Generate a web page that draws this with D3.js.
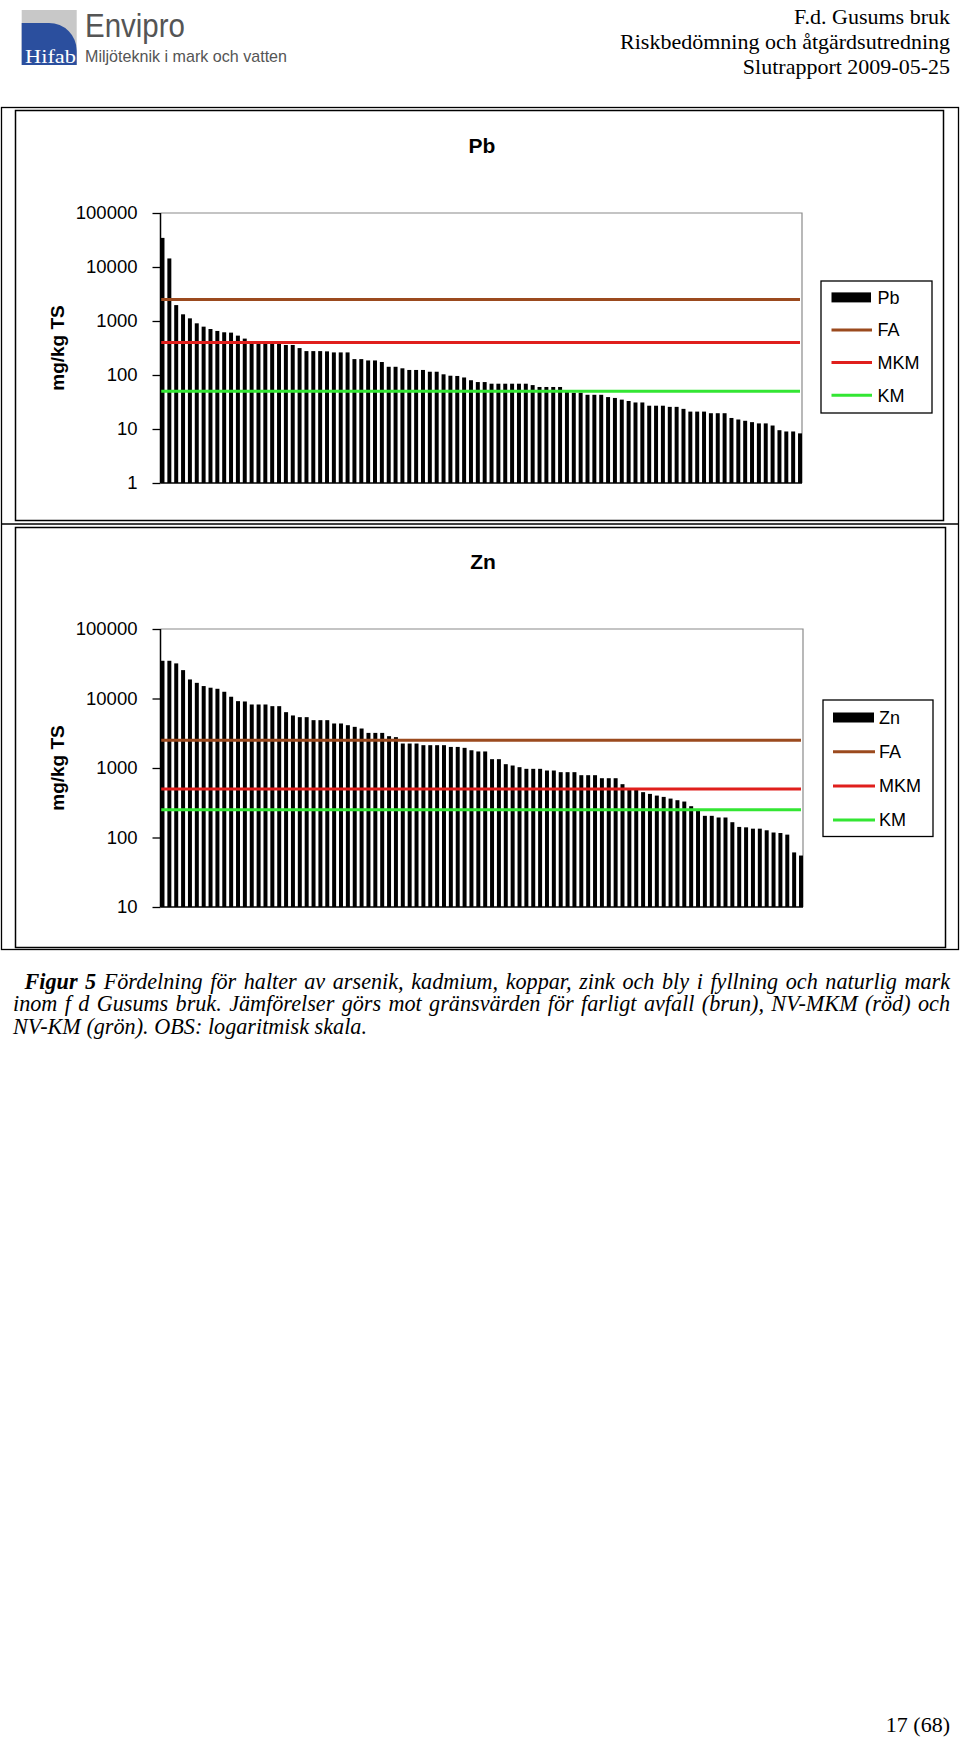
<!DOCTYPE html>
<html><head><meta charset="utf-8">
<script src="https://cdn.jsdelivr.net/npm/d3@7"></script>
<style>
html,body{margin:0;padding:0;background:#fff;}
svg{display:block;}
</style></head>
<body>
<svg id="page" width="960" height="1743"></svg>
<script>
// ---------------- data ----------------
const pbValues = [34600,14400,1970,1330,1120,906,786,711,654,618,
  609,536,472,420,400,400,400,400,360,360,
  315,277,277,277,274,262,262,262,197,197,
  186,186,174,142,142,133,124,124,124,115,
  115,103,97,96,90,80,74,74,69,69,
  69,69,69,69,65,60,60,60,60,49,
  47,47,43,43,43,39,37.6,35,33,31,
  31,27,27,27,25.7,25.7,23.6,21,21,21,
  19.6,19.6,19.6,16,15,14.2,13.4,12.7,12.7,11.6,
  9.5,9,9,8.3];
const znValues = [34900,34900,32000,25600,18800,16800,15100,14300,13800,12500,
  10600,9160,9060,8200,8200,8200,7760,7760,6360,5700,
  5390,5390,4880,4880,4880,4370,4370,4130,3910,3700,
  3200,3200,3200,2870,2780,2250,2250,2250,2130,2130,
  2130,2130,2010,2010,1950,1800,1730,1730,1340,1340,
  1135,1086,1028,973,973,973,920,920,871,871,
  871,788,788,788,713,713,713,585,510,490,
  449,424,401,384,363,344,329,282,245,205,
  205,194,194,166,142,140,134,134,127,118,
  116,110,61,55];
const limitNames = ["FA","MKM","KM"];
const pbLimits = [2500, 400, 50];
const znLimits = [2500, 500, 250];
const limitColors = ["#9b4a1e","#e01f1c","#33e633"];
const pbTicks = [1,10,100,1000,10000,100000];
const znTicks = [10,100,1000,10000,100000];
const yLabel = "mg/kg TS";
const headerLines = ["F.d. Gusums bruk","Riskbedömning och åtgärdsutredning","Slutrapport 2009-05-25"];
const captionLines = [
  "Figur 5 Fördelning för halter av arsenik, kadmium, koppar, zink och bly i fyllning och naturlig mark",
  "inom f d Gusums bruk. Jämförelser görs mot gränsvärden för farligt avfall (brun), NV-MKM (röd) och",
  "NV-KM (grön). OBS: logaritmisk skala."
];
const pageNumber = "17 (68)";

// ---------------- drawing ----------------
const svg = d3.select("#page");
svg.append("rect").attr("width",960).attr("height",1743).attr("fill","#fff");
const SANS = "'Liberation Sans', Arial, Helvetica, sans-serif";
const SERIF = "'Liberation Serif', 'Times New Roman', serif";

// logo
const logo = svg.append("g");
logo.append("rect").attr("x",21.7).attr("y",10).attr("width",55).attr("height",55).attr("fill","#c8c8c8");
logo.append("path").attr("d","M21.7,23 H49 A27.7,27.7 0 0 1 76.7,50.7 V65 H21.7 Z").attr("fill","#2b4f9e");
logo.append("text").attr("x",25).attr("y",62.5).attr("font-family",SERIF).attr("font-size",18)
  .attr("fill","#fff").attr("textLength",51).attr("lengthAdjust","spacingAndGlyphs").text("Hifab");
logo.append("text").attr("x",85).attr("y",36.7).attr("font-family",SANS).attr("font-size",33)
  .attr("fill","#555").attr("textLength",100).attr("lengthAdjust","spacingAndGlyphs").text("Envipro");
logo.append("text").attr("x",85).attr("y",62).attr("font-family",SANS).attr("font-size",17)
  .attr("fill","#555").attr("textLength",202).attr("lengthAdjust","spacingAndGlyphs").text("Miljöteknik i mark och vatten");

// header right
svg.append("g").selectAll("text").data(headerLines).join("text")
  .attr("x",950).attr("y",(d,i)=>24+i*25.2).attr("text-anchor","end")
  .attr("font-family",SERIF).attr("font-size",22).attr("fill","#000").text(d=>d);

// outer table frame
svg.append("rect").attr("x",1.5).attr("y",107.5).attr("width",957).attr("height",842)
  .attr("fill","none").attr("stroke","#000").attr("stroke-width",1.3);
svg.append("line").attr("x1",1.5).attr("x2",958.5).attr("y1",524).attr("y2",524)
  .attr("stroke","#000").attr("stroke-width",1.3);

function drawPanel(cfg){
  const g = svg.append("g");
  const p = cfg.plot;
  g.append("rect").attr("x",cfg.frame[0]).attr("y",cfg.frame[1]).attr("width",cfg.frame[2]).attr("height",cfg.frame[3])
    .attr("fill","#fff").attr("stroke","#000").attr("stroke-width",1.5);
  const x = d3.scaleBand().domain(d3.range(cfg.values.length)).range([p.x0, p.x1]).paddingInner(0.42).paddingOuter(0);
  const y = d3.scaleLog().domain(cfg.domain).range([p.y1, p.y0]);
  // plot area border (top/right grey)
  g.append("path").attr("d",`M${p.x0},${p.y0}H${p.x1}V${p.y1}`).attr("fill","none")
    .attr("stroke","#8a8a8a").attr("stroke-width",1.2);
  // bars
  g.append("g").selectAll("rect").data(cfg.values).join("rect")
    .attr("x",(d,i)=>x(i)).attr("width",x.bandwidth())
    .attr("y",d=>y(d)).attr("height",d=>y(cfg.domain[0])-y(d)).attr("fill","#000");
  // limit lines
  g.append("g").selectAll("line").data(cfg.limits).join("line")
    .attr("x1",p.x0).attr("x2",p.x1-2).attr("y1",d=>y(d)).attr("y2",d=>y(d))
    .attr("stroke",(d,i)=>limitColors[i]).attr("stroke-width",3);
  // axis
  const ax = g.append("g").attr("transform",`translate(${p.x0},0)`)
    .call(d3.axisLeft(y).tickValues(cfg.ticks).tickFormat(d3.format("d")).tickSize(8).tickPadding(15));
  ax.select(".domain").remove();
  ax.attr("font-family",SANS).attr("font-size",18.5);
  ax.selectAll("line").attr("stroke","#000").attr("stroke-width",1.3);
  ax.selectAll("text").attr("fill","#000");
  g.append("line").attr("x1",p.x0).attr("x2",p.x0).attr("y1",p.y0).attr("y2",p.y1).attr("stroke","#000").attr("stroke-width",1.5);
  g.append("line").attr("x1",p.x0).attr("x2",p.x1).attr("y1",p.y1).attr("y2",p.y1).attr("stroke","#000").attr("stroke-width",1.5);
  // title
  g.append("text").attr("x",cfg.titleX).attr("y",cfg.titleY).attr("text-anchor","middle")
    .attr("font-family",SANS).attr("font-weight","bold").attr("font-size",21).text(cfg.title);
  // y label
  g.append("text").attr("transform",`translate(57,${(p.y0+p.y1)/2}) rotate(-90)`).attr("text-anchor","middle")
    .attr("dy","0.35em").attr("font-family",SANS).attr("font-weight","bold").attr("font-size",19).text(yLabel);
  // legend
  const L = cfg.legend;
  g.append("rect").attr("x",L.x).attr("y",L.y).attr("width",L.w).attr("height",L.h)
    .attr("fill","#fff").attr("stroke","#000").attr("stroke-width",1.3);
  const items = [cfg.title].concat(limitNames);
  const li = g.append("g").selectAll("g").data(items).join("g")
    .attr("transform",(d,i)=>`translate(0,${L.row0 + i*L.step})`);
  li.each(function(d,i){
    const s = d3.select(this);
    if(i===0){
      s.append("rect").attr("x",L.sx0).attr("y",-5).attr("width",L.sx1-L.sx0-1).attr("height",10).attr("fill","#000");
    } else {
      s.append("line").attr("x1",L.sx0).attr("x2",L.sx1).attr("y1",0).attr("y2",0)
        .attr("stroke",limitColors[i-1]).attr("stroke-width",3);
    }
    s.append("text").attr("x",L.tx).attr("y",0).attr("dy","0.35em").attr("font-family",SANS)
      .attr("font-size",18).attr("fill","#000").text(d);
  });
}

drawPanel({title:"Pb", values:pbValues, limits:pbLimits, ticks:pbTicks, domain:[1,100000],
  frame:[15.5,110.5,928,410], plot:{x0:160.5,x1:802,y0:213,y1:483}, titleX:482, titleY:153,
  legend:{x:821,y:281,w:111,h:132,row0:297.4,step:32.6,sx0:831.5,sx1:872,tx:877.5}});
drawPanel({title:"Zn", values:znValues, limits:znLimits, ticks:znTicks, domain:[10,100000],
  frame:[15.5,527.5,930,420], plot:{x0:160.5,x1:803,y0:629,y1:907}, titleX:483, titleY:569,
  legend:{x:823,y:700,w:110,h:136.5,row0:717.5,step:34.2,sx0:833,sx1:875,tx:879}});

// caption (justified)
const cap = svg.append("g").attr("font-family",SERIF).attr("font-style","italic").attr("font-size",22.2).attr("fill","#000");
const capX0 = [24.5,13,13], capRight = 950, capY = [988.5,1011,1033.5];
captionLines.forEach((line,liIdx)=>{
  const words = line.split(" ");
  const nodes = words.map((w,wi)=>cap.append("text").attr("y",capY[liIdx])
    .attr("font-weight",(liIdx===0 && wi<2)?"bold":"normal").text(w));
  const widths = nodes.map(n=>n.node().getComputedTextLength());
  const total = d3.sum(widths);
  const justify = liIdx < captionLines.length-1;
  const gap = justify ? (capRight - capX0[liIdx] - total)/(words.length-1) : 5.6;
  let xx = capX0[liIdx];
  nodes.forEach((n,i)=>{ n.attr("x",xx); xx += widths[i]+gap; });
});

// page number
svg.append("text").attr("x",950).attr("y",1732).attr("text-anchor","end")
  .attr("font-family",SERIF).attr("font-size",22).attr("fill","#000").text(pageNumber);
</script>
</body></html>
